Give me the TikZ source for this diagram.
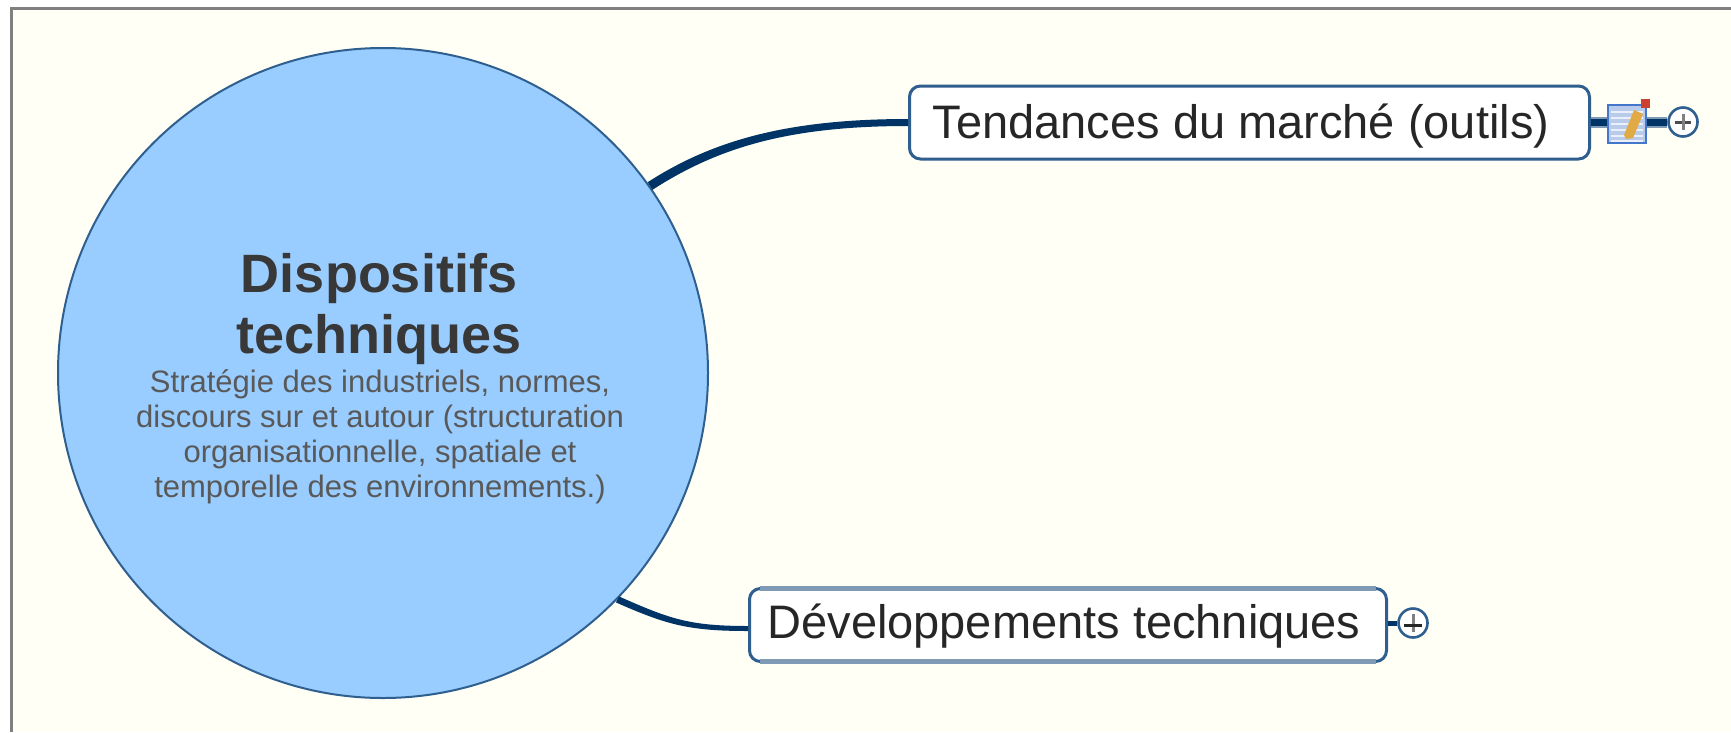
\documentclass[tikz,border=0pt]{standalone}
\usepackage{fontspec}
\setmainfont{Liberation Sans}
\definecolor{pagebg}{HTML}{FFFFF6}
\definecolor{framegray}{HTML}{808080}
\definecolor{circfill}{HTML}{99CCFF}
\definecolor{navy}{HTML}{003366}
\definecolor{edgeblue}{HTML}{2F5F8F}
\definecolor{softblue}{HTML}{7F9AB5}
\definecolor{notefill}{HTML}{B9CBEA}
\definecolor{noteedge}{HTML}{4477CC}
\definecolor{pencil}{HTML}{E2AA45}
\definecolor{pentip}{HTML}{CC4030}
\tikzset{
  x=1pt,y=-1pt,
  topicbox/.style={draw=edgeblue,line width=3pt,fill=white,rounded corners=11pt,inner sep=0pt,anchor=north west},
  toggle/.style={circle,draw=edgeblue,line width=2.6pt,fill=white,minimum size=29pt,inner sep=0pt},
  link/.style={draw=navy,line cap=butt},
  ribbon/.style={fill=navy,draw=none},
  toptext/.style={text=black!85,font=\fontsize{47}{47}\selectfont,inner sep=0pt},
  plusbar/.style={line width=3pt},
  noteicon/.style={draw=noteedge,line width=1.8pt,fill=notefill,minimum size=38pt,inner sep=0pt},
}
\begin{document}
\begin{tikzpicture}
\useasboundingbox (0,0) rectangle (1731,732);
\fill[white] (0,0) rectangle (1731,732);
\fill[pagebg] (11,9) rectangle (1731,732);
\draw[framegray,line width=3pt] (11.5,732) -- (11.5,8.5) -- (1731,8.5);
% central topic
\node[circle,draw=edgeblue,line width=2pt,fill=circfill,minimum size=650pt,inner sep=0pt] (hub) at (383,373) {};
\node[text=black!78,font=\fontsize{54}{61}\selectfont\bfseries,align=center,inner sep=0pt] (title) at (379,309) {Dispositifs\\techniques};
\node[text=black!65,font=\fontsize{31}{35}\selectfont,align=center,inner sep=0pt] (sub) at (380,436.5) {Stratégie des industriels, normes,\\discours sur et autour (structuration\\organisationnelle, spatiale et\\temporelle des environnements.)};
% topics
\node[topicbox,minimum width=680pt,minimum height=73pt] (market) at (908,84.5) {};
\node[toptext] (markettext) at (1241,126) {Tendances du marché (outils)};
\node[topicbox,minimum width=637pt,minimum height=73pt] (dev) at (748,587) {};
\draw[softblue,line width=5pt] ([shift={(12,1.5)}]dev.north west) -- ([shift={(-12,1.5)}]dev.north east);
\draw[softblue,line width=5pt] ([shift={(12,-1.5)}]dev.south west) -- ([shift={(-12,-1.5)}]dev.south east);
\node[toptext] (devtext) at (1064,626) {Développements techniques};
% connectors
\path[ribbon] ([shift={(-2.4,-3.8)}]hub.35) .. controls +(65,-42) and +(-120,0) .. ([yshift=3.5pt]market.west)
  -- ([yshift=-3.5pt]market.west) .. controls +(-120,0) and +(65,-42) .. ([shift={(2.4,3.8)}]hub.35) -- cycle;
\path[ribbon] ([shift={(1.5,-3)}]hub.-44.5) .. controls +(50,22) and +(-60,0) .. ([yshift=-1pt]dev.west)
  -- ([yshift=-6pt]dev.west) .. controls +(-60,0) and +(50,22) .. ([shift={(-1.5,3)}]hub.-44.5) -- cycle;
% icons
\node[noteicon] (note) at (1627,124) {};
\node[toggle] (plusa) at (1683,122) {};
\node[toggle] (plusb) at (1413,623) {};
\draw[softblue,line width=11pt] (market.east) -- (market.east -| note.west);
\draw[link,line width=7pt] (market.east) -- (market.east -| note.west);
\draw[softblue,line width=11pt] (plusa.west -| note.east) -- (plusa.west);
\draw[link,line width=7pt] (plusa.west -| note.east) -- (plusa.west);
\draw[link,line width=5pt] (dev.east |- plusb) -- (plusb.west);
\draw[black!70,plusbar] (1675,122) -- (1691,122);
\draw[black!50,plusbar] (1683,114) -- (1683,130);
\draw[black!50,plusbar] (1413,614) -- (1413,632);
\draw[black!85,plusbar] (1404,625) -- (1422,625);
% note icon details
\foreach \yy in {112,118,124,130,136,141}{\draw[white!70!notefill,line width=1.5pt] ([xshift=4pt]note.west |- 0,\yy) -- ([xshift=-4pt]note.east |- 0,\yy);}
\fill[pencil] (1624,135) -- (1634,110) -- (1643,114) -- (1633,138) -- (1626,139) -- cycle;
\fill[pentip] (1641,99) rectangle (1650,108);
\end{tikzpicture}
\end{document}
